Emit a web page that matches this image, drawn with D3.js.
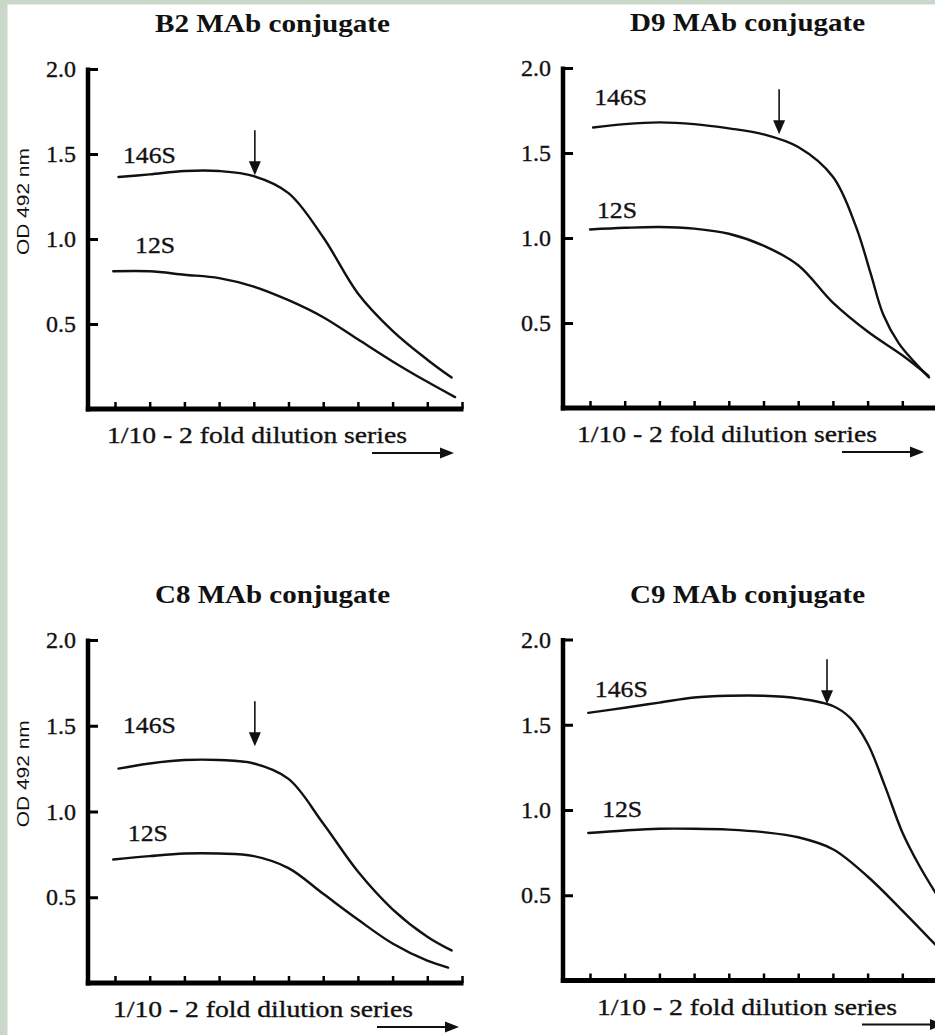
<!DOCTYPE html>
<html><head><meta charset="utf-8">
<script src="https://cdn.jsdelivr.net/npm/d3@7"></script>
<style>body{margin:0;background:#fff}svg{display:block}</style>
</head><body>
<script>
// ---------- data ----------
const titles = ["B2 MAb conjugate", "D9 MAb conjugate", "C8 MAb conjugate", "C9 MAb conjugate"];
const seriesNames = ["146S", "12S"];
const yTicks = [0.5, 1.0, 1.5, 2.0];
const yTickLabels = ["0.5", "1.0", "1.5", "2.0"];
const xTicks = [0, 1, 2, 3, 4, 5, 6, 7, 8, 9, 10];
const yTitle = "OD 492 nm";
const xTitle = "1/10 - 2 fold dilution series";

// [dilution step, OD]
const b2_146S = [[0.1,1.365],[1,1.38],[2,1.40],[3,1.40],[4,1.37],[5,1.27],[6,1.01],[7,0.68],[8,0.46],[9,0.29],[9.7,0.185]];
const b2_12S  = [[-0.05,0.81],[1,0.81],[2,0.79],[3,0.77],[4,0.72],[5,0.64],[6,0.54],[7,0.41],[8,0.28],[9,0.16],[9.8,0.07]];
const d9_146S = [[0.09,1.65],[1,1.67],[2,1.68],[3,1.67],[4,1.645],[5,1.61],[6,1.535],[7,1.36],[7.66,1.07],[8.09,0.79],[8.45,0.55],[8.9,0.38],[9.35,0.27],[9.77,0.18]];
const d9_12S  = [[0,1.05],[1,1.06],[2,1.065],[3,1.055],[4,1.025],[5,0.955],[6,0.84],[7,0.62],[8,0.45],[9,0.31],[9.75,0.19]];
const c8_146S = [[0.1,1.25],[1,1.28],[2,1.30],[3,1.30],[4,1.28],[5,1.19],[6,0.93],[7,0.65],[8,0.43],[9,0.27],[9.7,0.19]];
const c8_12S  = [[-0.05,0.72],[1,0.74],[2,0.755],[3,0.755],[4,0.74],[5,0.67],[6,0.52],[7,0.37],[8,0.23],[9,0.13],[9.6,0.09]];
const c9_146S = [[-0.05,1.57],[1,1.60],[2,1.63],[3,1.66],[4,1.67],[5,1.67],[6,1.655],[7,1.61],[7.5,1.54],[8,1.39],[8.5,1.14],[9,0.87],[9.5,0.67],[10,0.50]];
const c9_12S  = [[-0.05,0.865],[1,0.88],[2,0.89],[3,0.89],[4,0.885],[5,0.87],[6,0.84],[7,0.77],[8,0.61],[9,0.41],[10,0.20]];

// arrow marking end-point (dilution step, OD at arrow tip)
const arrowStep = [4.03, 5.45, 4.03, 6.83];
const arrowOD   = [1.375, 1.61, 1.38, 1.62];

// ---------- layout ----------
const W = 935, H = 1035;
const panels = [
  {title: titles[0], s146: b2_146S, s12: b2_12S, ox: 88,  oy: 409,   h: 340, yTitle: true,  xlabC: 169, arrX: 284, lab146: [0.23,1.45], lab12: [0.58,0.92]},
  {title: titles[1], s146: d9_146S, s12: d9_12S, ox: 563, oy: 408,   h: 340, yTitle: false, xlabC: 164, arrX: 279, lab146: [0.12,1.78], lab12: [0.20,1.12]},
  {title: titles[2], s146: c8_146S, s12: c8_12S, ox: 88,  oy: 983,   h: 343, yTitle: true,  xlabC: 175, arrX: 289, lab146: [0.23,1.46], lab12: [0.37,0.83]},
  {title: titles[3], s146: c9_146S, s12: c9_12S, ox: 563, oy: 980.5, h: 341, yTitle: false, xlabC: 184, arrX: 299, lab146: [0.14,1.66], lab12: [0.35,0.96]}
];
const serif = "'Liberation Serif','Times New Roman',serif";
const ink = "#111";

const svg = d3.select("body").append("svg").attr("width", W).attr("height", H);
svg.append("rect").attr("width", W).attr("height", H).attr("fill", "#c9d8c9");
svg.append("rect").attr("x", 7.5).attr("y", 4.5).attr("width", W).attr("height", H).attr("fill", "#ffffff");

panels.forEach((p, i) => {
  const g = svg.append("g").attr("transform", `translate(${p.ox},${p.oy - p.h})`);
  const x = d3.scaleLinear().domain([0, 10]).range([27, 374]);
  const y = d3.scaleLinear().domain([0, 2]).range([p.h, 0]);

  // y axis
  const ya = g.append("g").call(d3.axisLeft(y).tickValues(yTicks)
      .tickFormat((d, k) => yTickLabels[k]).tickSizeInner(-10).tickSizeOuter(0).tickPadding(12));
  ya.select(".domain").remove();
  ya.selectAll(".tick line").attr("stroke", "#000").attr("stroke-width", 3);
  ya.selectAll(".tick text").attr("font-family", serif).attr("font-size", 24).attr("fill", ink)
    .attr("stroke", ink).attr("stroke-width", 0.35);
  g.append("line").attr("x1", 0).attr("x2", 0).attr("y1", y(2) - 1.5).attr("y2", y(0) + 2.5)
    .attr("stroke", "#000").attr("stroke-width", 4.5);

  // x axis
  const xa = g.append("g").attr("transform", `translate(0,${y(0)})`)
    .call(d3.axisBottom(x).tickValues(xTicks).tickFormat("").tickSizeInner(-7).tickSizeOuter(0));
  xa.select(".domain").remove();
  xa.selectAll(".tick line").attr("stroke", "#000").attr("stroke-width", 2.5);
  g.append("line").attr("x1", -2.2).attr("x2", x(10) + 1.5).attr("y1", y(0)).attr("y2", y(0))
    .attr("stroke", "#000").attr("stroke-width", 5);

  // curves
  const line = d3.line().x(d => x(d[0])).y(d => y(d[1])).curve(d3.curveCatmullRom.alpha(0.5));
  [p.s146, p.s12].forEach(s => {
    g.append("path").datum(s).attr("d", line).attr("fill", "none")
      .attr("stroke", ink).attr("stroke-width", 2.4).attr("stroke-linecap", "round");
  });

  // series labels
  [[p.lab146, seriesNames[0], 53], [p.lab12, seriesNames[1], 40]].forEach(([pos, t, len]) => {
    g.append("text").attr("x", x(pos[0])).attr("y", y(pos[1])).text(t)
      .attr("font-family", serif).attr("font-size", 24).attr("fill", ink)
      .attr("stroke", ink).attr("stroke-width", 0.35)
      .attr("textLength", len).attr("lengthAdjust", "spacingAndGlyphs");
  });

  // down arrow
  const ax = x(arrowStep[i]), ay = y(arrowOD[i]);
  g.append("line").attr("x1", ax).attr("x2", ax).attr("y1", ay - 45).attr("y2", ay - 12)
    .attr("stroke", ink).attr("stroke-width", 1.6);
  g.append("path").attr("d", `M${ax - 6},${ay - 14}L${ax + 6},${ay - 14}L${ax},${ay}Z`).attr("fill", ink);

  // title
  g.append("text").attr("x", 184.5).attr("y", y(2) - 37).attr("text-anchor", "middle")
    .attr("font-family", serif).attr("font-weight", "bold").attr("font-size", 25).attr("fill", ink)
    .attr("textLength", 235).attr("lengthAdjust", "spacingAndGlyphs").text(p.title);

  // x title
  g.append("text").attr("x", p.xlabC).attr("y", y(0) + 34).attr("text-anchor", "middle")
    .attr("font-family", serif).attr("font-size", 24).attr("fill", ink)
    .attr("stroke", ink).attr("stroke-width", 0.35)
    .attr("textLength", 300).attr("lengthAdjust", "spacingAndGlyphs").text(xTitle);

  // right arrow
  const ry = y(0) + 44;
  g.append("line").attr("x1", p.arrX).attr("x2", p.arrX + 70).attr("y1", ry).attr("y2", ry)
    .attr("stroke", ink).attr("stroke-width", 2);
  g.append("path").attr("d", `M${p.arrX + 68},${ry - 5.5}L${p.arrX + 82},${ry}L${p.arrX + 68},${ry + 5.5}Z`).attr("fill", ink);

  // y title
  if (p.yTitle) {
    g.append("text").attr("transform", `translate(-65,${y(1.22)}) rotate(-90)`)
      .attr("text-anchor", "middle").attr("dy", "0.35em")
      .attr("font-family", "'Liberation Sans',Arial,sans-serif").attr("font-size", 16).attr("fill", ink)
      .attr("textLength", 107).attr("lengthAdjust", "spacingAndGlyphs").text(yTitle);
  }
});
</script>
</body></html>
